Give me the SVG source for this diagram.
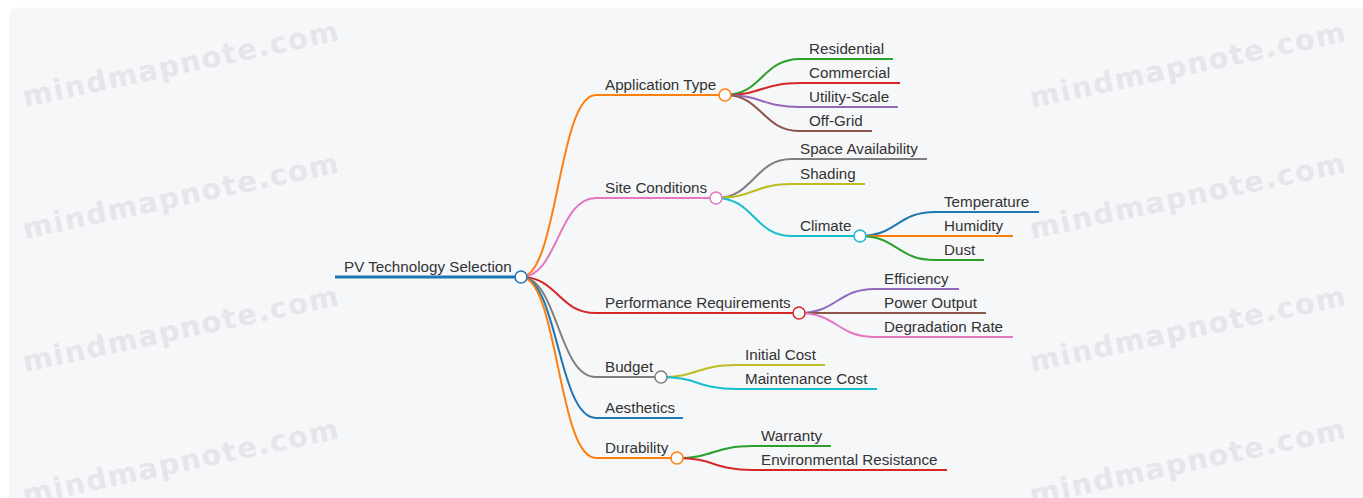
<svg xmlns="http://www.w3.org/2000/svg" width="1363" height="498" viewBox="0 0 1363 498">
  <defs>
    <style>
      .bg { fill: #f6f7f9; }
      .wm { font-family: "DejaVu Sans", Verdana, sans-serif; font-weight: bold; font-size: 28.5px; letter-spacing: 1.6px; fill: #e5e6e9; }
      .lbl { font-family: "Liberation Sans", Arial, sans-serif; font-size: 15.2px; fill: #333333; }
      .link { fill: none; stroke-width: 2; }
      .bar { fill: none; stroke-width: 2; }
      .root-bar { fill: none; stroke-width: 3; }
      .dot { fill: #ffffff; stroke-width: 1.5; }
    </style>
  </defs>

  <!-- canvas -->
  <rect class="bg" x="9" y="7.5" width="1360" height="500" rx="8"/>

  <!-- watermark text -->
  <g id="watermarks">
    <text class="wm" transform="translate(25 107) rotate(-12)">mindmapnote.com</text>
    <text class="wm" transform="translate(25 239) rotate(-12)">mindmapnote.com</text>
    <text class="wm" transform="translate(25 372) rotate(-12)">mindmapnote.com</text>
    <text class="wm" transform="translate(25 505) rotate(-12)">mindmapnote.com</text>
    <text class="wm" transform="translate(1032 108) rotate(-12)">mindmapnote.com</text>
    <text class="wm" transform="translate(1032 239) rotate(-12)">mindmapnote.com</text>
    <text class="wm" transform="translate(1032 372) rotate(-12)">mindmapnote.com</text>
    <text class="wm" transform="translate(1032 505) rotate(-12)">mindmapnote.com</text>
  </g>

  <!-- connectors: cubic links from each parent dot to the start of the child's bar -->
  <g id="connectors">
    <path class="link" stroke="#ff7f0e" d="M521,277 C558,277 558,95 596,95"/>
    <path class="link" stroke="#e377c2" d="M521,277 C558,277 558,198 596,198"/>
    <path class="link" stroke="#d62728" d="M521,277 C558,277 558,313 596,313"/>
    <path class="link" stroke="#7f7f7f" d="M521,277 C558,277 558,377 596,377"/>
    <path class="link" stroke="#1f77b4" d="M521,277 C558,277 558,418 596,418"/>
    <path class="link" stroke="#ff7f0e" d="M521,277 C558,277 558,458 596,458"/>

    <path class="link" stroke="#2ca02c" d="M725,95 C762,95 762,59 800,59"/>
    <path class="link" stroke="#d62728" d="M725,95 C762,95 762,83 800,83"/>
    <path class="link" stroke="#9467bd" d="M725,95 C762,95 762,107 800,107"/>
    <path class="link" stroke="#8c564b" d="M725,95 C762,95 762,131 800,131"/>

    <path class="link" stroke="#7f7f7f" d="M716,198 C754,198 754,159 792,159"/>
    <path class="link" stroke="#bcbd22" d="M716,198 C754,198 754,184 792,184"/>
    <path class="link" stroke="#17becf" d="M716,198 C754,198 754,236 792,236"/>

    <path class="link" stroke="#1f77b4" d="M860,236 C897,236 897,212 935,212"/>
    <path class="link" stroke="#ff7f0e" d="M860,236 C897,236 897,236 935,236"/>
    <path class="link" stroke="#2ca02c" d="M860,236 C897,236 897,260 935,260"/>

    <path class="link" stroke="#9467bd" d="M799,313 C837,313 837,289 875,289"/>
    <path class="link" stroke="#8c564b" d="M799,313 C837,313 837,313 875,313"/>
    <path class="link" stroke="#e377c2" d="M799,313 C837,313 837,337 875,337"/>

    <path class="link" stroke="#bcbd22" d="M661,377 C698,377 698,365 736,365"/>
    <path class="link" stroke="#17becf" d="M661,377 C698,377 698,389 736,389"/>

    <path class="link" stroke="#2ca02c" d="M677,458 C714,458 714,446 752,446"/>
    <path class="link" stroke="#d62728" d="M677,458 C714,458 714,470 752,470"/>
  </g>

  <!-- root -->
  <g id="node-root">
    <line class="root-bar" stroke="#1f77b4" x1="335" y1="277" x2="521" y2="277"/>
    <text class="lbl" x="344" y="272">PV Technology Selection</text>
    <circle class="dot" stroke="#1f77b4" cx="521" cy="277" r="6"/>
  </g>

  <!-- first level -->
  <g id="node-application-type">
    <line class="bar" stroke="#ff7f0e" x1="596" y1="95" x2="725" y2="95"/>
    <text class="lbl" x="605" y="90">Application Type</text>
    <circle class="dot" stroke="#ff7f0e" cx="725" cy="95" r="6"/>
  </g>
  <g id="node-site-conditions">
    <line class="bar" stroke="#e377c2" x1="596" y1="198" x2="716" y2="198"/>
    <text class="lbl" x="605" y="193">Site Conditions</text>
    <circle class="dot" stroke="#e377c2" cx="716" cy="198" r="6"/>
  </g>
  <g id="node-performance">
    <line class="bar" stroke="#d62728" x1="596" y1="313" x2="799" y2="313"/>
    <text class="lbl" x="605" y="308">Performance Requirements</text>
    <circle class="dot" stroke="#d62728" cx="799" cy="313" r="6"/>
  </g>
  <g id="node-budget">
    <line class="bar" stroke="#7f7f7f" x1="596" y1="377" x2="661" y2="377"/>
    <text class="lbl" x="605" y="372">Budget</text>
    <circle class="dot" stroke="#7f7f7f" cx="661" cy="377" r="6"/>
  </g>
  <g id="node-aesthetics">
    <line class="bar" stroke="#1f77b4" x1="596" y1="418" x2="683" y2="418"/>
    <text class="lbl" x="605" y="413">Aesthetics</text>
  </g>
  <g id="node-durability">
    <line class="bar" stroke="#ff7f0e" x1="596" y1="458" x2="677" y2="458"/>
    <text class="lbl" x="605" y="453">Durability</text>
    <circle class="dot" stroke="#ff7f0e" cx="677" cy="458" r="6"/>
  </g>

  <!-- application type children -->
  <g id="node-residential">
    <line class="bar" stroke="#2ca02c" x1="800" y1="59" x2="893" y2="59"/>
    <text class="lbl" x="809" y="54">Residential</text>
  </g>
  <g id="node-commercial">
    <line class="bar" stroke="#d62728" x1="800" y1="83" x2="900" y2="83"/>
    <text class="lbl" x="809" y="78">Commercial</text>
  </g>
  <g id="node-utility-scale">
    <line class="bar" stroke="#9467bd" x1="800" y1="107" x2="898" y2="107"/>
    <text class="lbl" x="809" y="102">Utility-Scale</text>
  </g>
  <g id="node-off-grid">
    <line class="bar" stroke="#8c564b" x1="800" y1="131" x2="872" y2="131"/>
    <text class="lbl" x="809" y="126">Off-Grid</text>
  </g>

  <!-- site condition children -->
  <g id="node-space">
    <line class="bar" stroke="#7f7f7f" x1="792" y1="159" x2="927" y2="159"/>
    <text class="lbl" x="800" y="154">Space Availability</text>
  </g>
  <g id="node-shading">
    <line class="bar" stroke="#bcbd22" x1="792" y1="184" x2="865" y2="184"/>
    <text class="lbl" x="800" y="179">Shading</text>
  </g>
  <g id="node-climate">
    <line class="bar" stroke="#17becf" x1="792" y1="236" x2="860" y2="236"/>
    <text class="lbl" x="800" y="231">Climate</text>
    <circle class="dot" stroke="#17becf" cx="860" cy="236" r="6"/>
  </g>
  <g id="node-temperature">
    <line class="bar" stroke="#1f77b4" x1="935" y1="212" x2="1039" y2="212"/>
    <text class="lbl" x="944" y="207">Temperature</text>
  </g>
  <g id="node-humidity">
    <line class="bar" stroke="#ff7f0e" x1="935" y1="236" x2="1013" y2="236"/>
    <text class="lbl" x="944" y="231">Humidity</text>
  </g>
  <g id="node-dust">
    <line class="bar" stroke="#2ca02c" x1="935" y1="260" x2="984" y2="260"/>
    <text class="lbl" x="944" y="255">Dust</text>
  </g>

  <!-- performance children -->
  <g id="node-efficiency">
    <line class="bar" stroke="#9467bd" x1="875" y1="289" x2="959" y2="289"/>
    <text class="lbl" x="884" y="284">Efficiency</text>
  </g>
  <g id="node-power-output">
    <line class="bar" stroke="#8c564b" x1="875" y1="313" x2="986" y2="313"/>
    <text class="lbl" x="884" y="308">Power Output</text>
  </g>
  <g id="node-degradation">
    <line class="bar" stroke="#e377c2" x1="875" y1="337" x2="1013" y2="337"/>
    <text class="lbl" x="884" y="332">Degradation Rate</text>
  </g>

  <!-- budget children -->
  <g id="node-initial-cost">
    <line class="bar" stroke="#bcbd22" x1="736" y1="365" x2="825" y2="365"/>
    <text class="lbl" x="745" y="360">Initial Cost</text>
  </g>
  <g id="node-maintenance-cost">
    <line class="bar" stroke="#17becf" x1="736" y1="389" x2="877" y2="389"/>
    <text class="lbl" x="745" y="384">Maintenance Cost</text>
  </g>

  <!-- durability children -->
  <g id="node-warranty">
    <line class="bar" stroke="#2ca02c" x1="752" y1="446" x2="831" y2="446"/>
    <text class="lbl" x="761" y="441">Warranty</text>
  </g>
  <g id="node-environmental">
    <line class="bar" stroke="#d62728" x1="752" y1="470" x2="947" y2="470"/>
    <text class="lbl" x="761" y="465">Environmental Resistance</text>
  </g>
</svg>
